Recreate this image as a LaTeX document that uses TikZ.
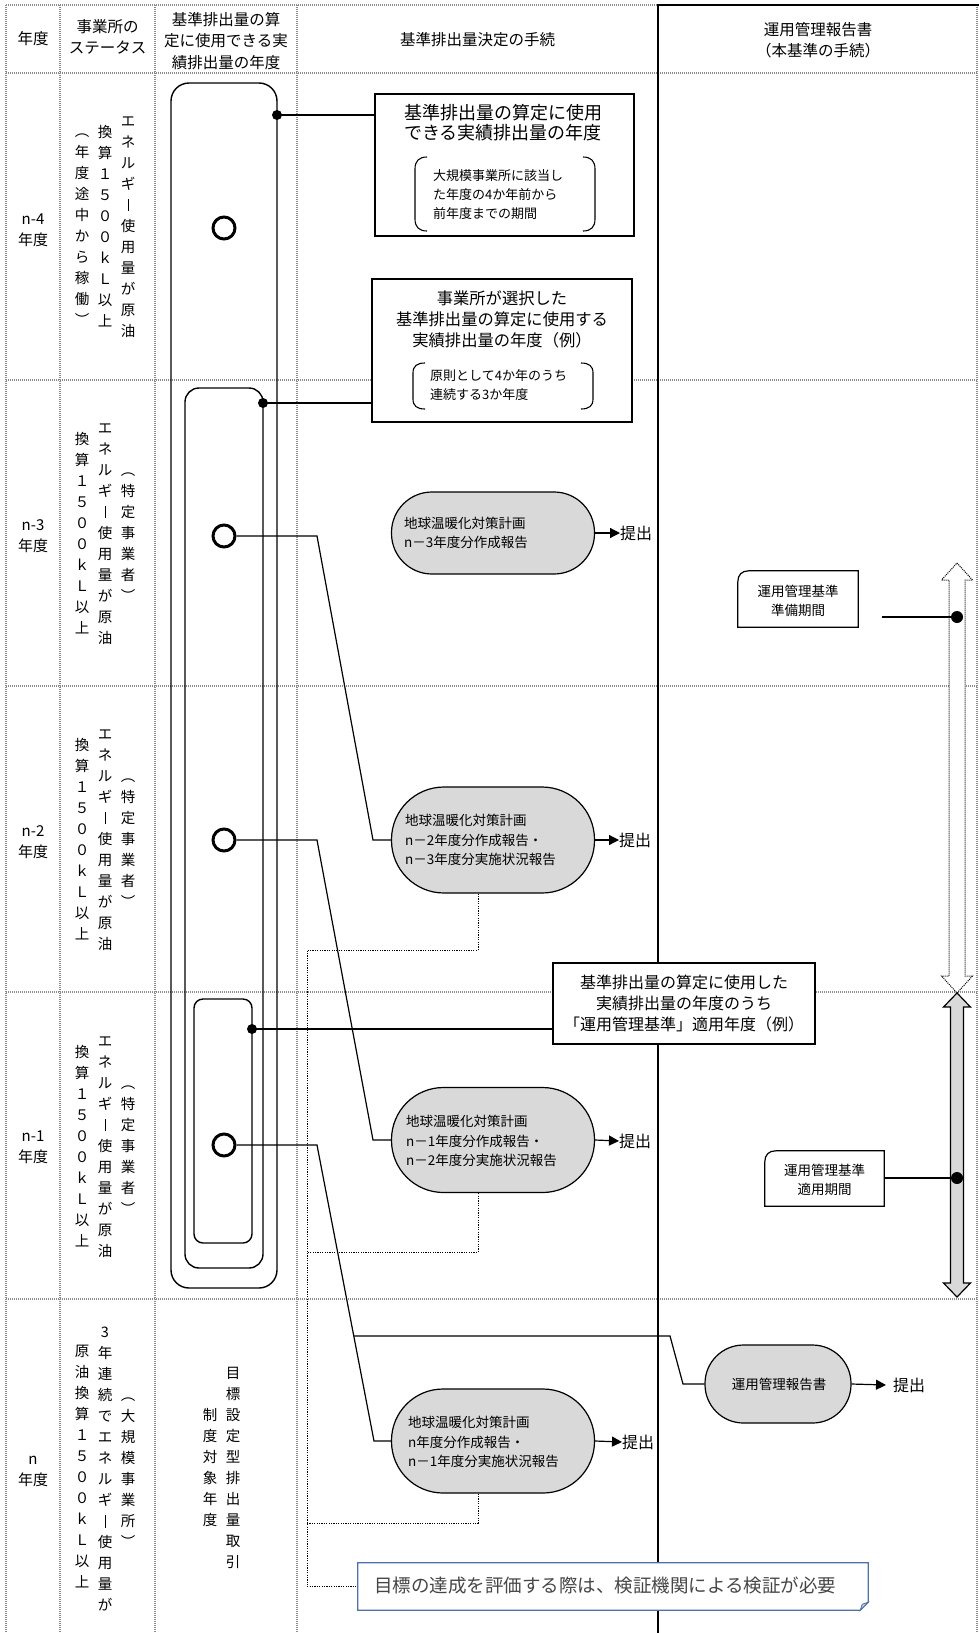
\documentclass[tikz,border=0pt]{standalone}
\usepackage{fontspec}
\setmainfont{Noto Sans CJK JP}
\usetikzlibrary{arrows.meta,calc}
\definecolor{capgray}{RGB}{217,217,217}
\definecolor{gridgray}{RGB}{140,140,140}
\definecolor{noteblue}{RGB}{79,113,170}
\definecolor{notetext}{RGB}{70,70,70}
\newcommand{\vp}{\vphantom{国}}
\newcommand{\vbar}{\raisebox{-1pt}{\rule{1pt}{12.5pt}}}
\begin{document}
\begin{tikzpicture}[x=1pt,y=-1pt,
 grid/.style={draw=gridgray, line width=1.6pt, dash pattern=on 1pt off 1pt},
 conn/.style={draw=black, line width=1.2pt},
 fbline/.style={draw=black, line width=0.9pt, dash pattern=on 1.2pt off 1.2pt},
 rrect/.style={draw=black, line width=1.4pt},
 hdr/.style={font=\fontsize{15.5}{21.5}\selectfont, align=center, inner sep=0},
 yr/.style={font=\fontsize{15}{21}\selectfont, align=center, inner sep=0},
 vcol/.style={font=\fontsize{14.5}{21}\selectfont, align=center, inner sep=0},
 boxw/.style={draw=black, line width=1.2pt, fill=white, inner sep=0},
 ttl/.style={font=\fontsize{#1}{21}\selectfont, align=center, inner sep=0},
 brt/.style={font=\fontsize{13}{19}\selectfont, align=left, inner sep=0, anchor=west},
 capn/.style={draw=black, line width=1.2pt, fill=capgray, minimum width=203pt, inner sep=0},
 ctext/.style={font=\fontsize{13.5}{19.5}\selectfont, align=left, inner sep=0},
 sub/.style={font=\fontsize{16}{16}\selectfont, inner sep=0, anchor=west},
 ocirc/.style={circle, draw=black, line width=3pt, minimum size=22pt, inner sep=0, fill=white},
 dot/.style={circle, fill=black, minimum size=10pt, inner sep=0},
 dotb/.style={circle, fill=black, minimum size=12pt, inner sep=0},
 tip/.style={-{Triangle[length=10pt,width=10pt]}},
 blank/.style={inner sep=0}
]
\useasboundingbox (0,0) rectangle (979,1633);

% ---------- grid ----------
\draw[grid] (6,5) -- (658,5);
\draw[grid] (6,5) -- (6,1633);
\foreach \gx in {60,155,297} \draw[grid] (\gx,5) -- (\gx,1633);
\draw[grid] (977,5) -- (977,1633);
\draw[grid, line width=2.4pt] (6,73) -- (977,73);
\foreach \gy in {380,686,992,1299} \draw[grid] (6,\gy) -- (977,\gy);
\draw[line width=2.6pt] (658,4) -- (658,1633);
\draw[line width=2.6pt] (658,5) -- (979,5);

% ---------- header ----------
\node[hdr] (h1) at (33,39) {年度};
\node[hdr] (h2) at (107.5,37) {事業所の\\ステータス};
\node[hdr] (h3) at (226,41) {基準排出量の算\\定に使用できる実\\績排出量の年度};
\node[hdr] (h4) at (477.5,40) {基準排出量決定の手続};
\node[hdr] (h5) at (818,40) {運用管理報告書\\（本基準の手続）};

% ---------- year column ----------
\node[yr] (y4) at (33,230) {n-4\\年度};
\node[yr] (y3) at (33,536) {n-3\\年度};
\node[yr] (y2) at (33,842) {n-2\\年度};
\node[yr] (y1) at (33,1147) {n-1\\年度};
\node[yr] (y0) at (33,1471) {n\\年度};

% ---------- status column (vertical text) ----------
\node[vcol] (s4a) at (128,226) {\vp エ\\ネ\\ル\\ギ\\\vbar\\使\\用\\量\\が\\原\\油\vp};
\node[vcol] (s4b) at (105,226) {\vp 換\\算\\１\\５\\０\\０\\ｋ\\Ｌ\\以\\上\vp};
\node[vcol] (s4c) at (82,226) {\vp ︵\\年\\度\\途\\中\\か\\ら\\稼\\働\\︶\vp};

\foreach \ry/\rn in {533/3,839/2,1146/1}{
 \node[vcol] (s\rn a) at (128,\ry) {\vp ︵\\特\\定\\事\\業\\者\\︶\vp};
 \node[vcol] (s\rn b) at (105,\ry) {\vp エ\\ネ\\ル\\ギ\\\vbar\\使\\用\\量\\が\\原\\油\vp};
 \node[vcol] (s\rn c) at (82,\ry) {\vp 換\\算\\１\\５\\０\\０\\ｋ\\Ｌ\\以\\上\vp};
}

\node[vcol] (s0a) at (128,1469) {\vp ︵\\大\\規\\模\\事\\業\\所\\︶\vp};
\node[vcol] (s0b) at (105,1469) {\vp 3\\年\\連\\続\\で\\エ\\ネ\\ル\\ギ\\\vbar\\使\\用\\量\\が\vp};
\node[vcol] (s0c) at (82,1467) {\vp 原\\油\\換\\算\\１\\５\\０\\０\\ｋ\\Ｌ\\以\\上\vp};

% column 3, row n
\node[vcol] (m0a) at (233,1468) {\vp 目\\標\\設\\定\\型\\排\\出\\量\\取\\引\vp};
\node[vcol] (m0b) at (210,1468) {\vp 制\\度\\対\\象\\年\\度\vp};

% ---------- nested rounded rectangles ----------
\draw[rrect, rounded corners=18pt] (171,83) rectangle (277,1288);
\draw[rrect, rounded corners=14pt] (185,388) rectangle (263,1268);
\draw[rrect, rounded corners=9pt] (194,999) rectangle (252,1243);

% ---------- capsules ----------
\node[capn, minimum height=82pt, rounded corners=40.5pt] (c1) at (493,533) {};
\node[capn, minimum height=106pt, rounded corners=52.5pt] (c2) at (493,840) {};
\node[capn, minimum height=105pt, rounded corners=52pt] (c3) at (493,1140) {};
\node[capn, minimum height=104pt, rounded corners=51.5pt] (c4) at (493,1441) {};
\node[capn, minimum width=146pt, minimum height=78pt, rounded corners=38.5pt] (c5) at (778,1384) {};

\node[ctext, anchor=west] (c1t) at (404,533) {地球温暖化対策計画\\n－3年度分作成報告};
\node[ctext, anchor=west] (c2t) at (405,840) {地球温暖化対策計画\\n－2年度分作成報告・\\n－3年度分実施状況報告};
\node[ctext, anchor=west] (c3t) at (406,1141) {地球温暖化対策計画\\n－1年度分作成報告・\\n－2年度分実施状況報告};
\node[ctext, anchor=west] (c4t) at (408,1442) {地球温暖化対策計画\\n年度分作成報告・\\n－1年度分実施状況報告};
\node[ctext] (c5t) at (779,1384) {運用管理報告書};

% submit arrows
\node[sub] (t1) at (620,533) {提出};
\node[sub] (t2) at (619,840) {提出};
\node[sub] (t3) at (619,1141) {提出};
\node[sub] (t4) at (622,1442) {提出};
\node[sub] (t5) at (893,1385) {提出};
\draw[conn, tip] (c1.east) -- (t1.west);
\draw[conn, tip] (c2.east) -- (t2.west);
\draw[conn, tip] (c3.east) -- (t3.west);
\draw[conn, tip] (c4.east) -- (t4.west);
\draw[conn, tip] (c5.east) -- ([xshift=-7pt]t5.west);

% ---------- circles ----------
\node[ocirc] (o4) at (224,228) {};
\node[ocirc] (o3) at (224,536) {};
\node[ocirc] (o2) at (224,840) {};
\node[ocirc] (o1) at (224,1145) {};

\coordinate (k3a) at (317,536);  \coordinate (k3b) at (373,840);
\coordinate (k2a) at (317,840);  \coordinate (k2b) at (373,1140);
\coordinate (k1a) at (317,1145); \coordinate (k1b) at (374,1441);
\draw[conn] (o3.east) -- (k3a) -- (k3b) -- (c2.west);
\draw[conn] (o2.east) -- (k2a) -- (k2b) -- (c3.west);
\draw[conn] (o1.east) -- (k1a) -- (k1b) -- (c4.west);
\coordinate (kb) at ($(k1a)!0.645!(k1b)$);
\coordinate (kc) at (670,1336);
\coordinate (kd) at (683,1384);
\draw[conn] (kb) -- (kb -| kc) -- (kd) -- (c5.west);

% ---------- feedback dotted lines ----------
\coordinate (fbx) at (307,950);
\node[blank, minimum width=510pt, minimum height=47pt] (note) at (613,1586.5) {};
\draw[fbline] ([xshift=-15pt]c2.south) |- (fbx) -- (fbx |- note.west) -- (note.west);
\draw[fbline] ([xshift=-15pt]c3.south) |- (307,1252);
\draw[fbline] ([xshift=-15pt]c4.south) |- (307,1523);

% note box
\draw[noteblue, line width=1.2pt, fill=white] (note.north west) -- (note.north east) -- ([yshift=8pt]note.south east) -- ([xshift=-8pt]note.south east) -- (note.south west) -- cycle;
\draw[noteblue, line width=0.8pt, fill=noteblue!35] ([yshift=8pt]note.south east) -- ([xshift=-6pt,yshift=6pt]note.south east) -- ([xshift=-8pt]note.south east) -- cycle;
\node[font=\fontsize{18.5}{20}\selectfont, text=notetext, anchor=west, inner sep=0] (notet) at (374,1585) {目標の達成を評価する際は、検証機関による検証が必要};

% ---------- description boxes ----------
\node[dot] (d1) at (277,115) {};
\node[dot] (d2) at (263,403) {};
\node[dot] (d3) at (252,1029) {};

\node[boxw, minimum width=259pt, minimum height=142pt] (b1) at (504.5,165) {};
\node[boxw, minimum width=260pt, minimum height=143pt] (b2) at (502,350.5) {};
\node[boxw, minimum width=262pt, minimum height=81pt] (b3) at (684,1003.5) {};
\draw[conn] (d1.center) -- (b1.west |- d1);
\draw[conn] (d2.center) -- (b2.west |- d2);
\draw[conn] (d3.center) -- (b3.west |- d3);

\node[ttl=18, font=\fontsize{18}{20}\selectfont] (b1t) at (503,123) {基準排出量の算定に使用\\できる実績排出量の年度};
\node[brt] (b1s) at (433,195) {大規模事業所に該当し\\た年度の4か年前から\\前年度までの期間};
\draw[line width=1.1pt] (427,157) .. controls (419,157) and (415,161) .. (415,169) -- (415,219) .. controls (415,227) and (419,231) .. (427,231);
\draw[line width=1.1pt] (583,157) .. controls (591,157) and (595,161) .. (595,169) -- (595,219) .. controls (595,227) and (591,231) .. (583,231);

\node[ttl=16.3, font=\fontsize{16.3}{21}\selectfont] (b2t) at (502,319) {事業所が選択した\\基準排出量の算定に使用する\\実績排出量の年度（例）};
\node[brt] (b2s) at (430,385) {原則として4か年のうち\\連続する3か年度};
\draw[line width=1.1pt] (425,363) .. controls (417,363) and (413,366) .. (413,373) -- (413,399) .. controls (413,406) and (417,409) .. (425,409);
\draw[line width=1.1pt] (581,363) .. controls (589,363) and (593,366) .. (593,373) -- (593,399) .. controls (593,406) and (589,409) .. (581,409);

\node[ttl=16, font=\fontsize{16}{21}\selectfont] (b3t) at (684,1003) {基準排出量の算定に使用した\\実績排出量の年度のうち\\「運用管理基準」適用年度（例）};

% ---------- right column ----------
\draw[line width=1pt, dash pattern=on 1pt off 1pt, fill=white] (957,563) -- (972.5,580) -- (965,580) -- (965,976) -- (972.5,976) -- (957,993) -- (941.5,976) -- (949,976) -- (949,580) -- (941.5,580) -- cycle;
\draw[line width=1.2pt, fill=capgray] (957,993) -- (970.5,1007) -- (963.5,1007) -- (963.5,1283) -- (970.5,1283) -- (957,1297) -- (943.5,1283) -- (950.5,1283) -- (950.5,1007) -- (943.5,1007) -- cycle;

\node[blank, minimum width=120pt, minimum height=56pt] (p1) at (798,599) {};
\draw[line width=1.2pt, fill=white] (p1.north east) -- (p1.south east) -- (p1.south west) -- ([yshift=-11pt]p1.north west) .. controls ([yshift=-4pt]p1.north west) and ([xshift=4pt]p1.north west) .. ([xshift=11pt]p1.north west) -- cycle;
\node[ctext, align=center] (p1t) at (798,601) {運用管理基準\\準備期間};

\node[blank, minimum width=119pt, minimum height=55pt] (p2) at (824.5,1178.5) {};
\draw[line width=1.2pt, fill=white] (p2.north east) -- (p2.south east) -- (p2.south west) -- ([yshift=-11pt]p2.north west) .. controls ([yshift=-4pt]p2.north west) and ([xshift=4pt]p2.north west) .. ([xshift=11pt]p2.north west) -- cycle;
\node[ctext, align=center] (p2t) at (824.5,1180) {運用管理基準\\適用期間};

\node[dotb] (rd1) at (957,617) {};
\node[dotb] (rd2) at (957,1178) {};
\coordinate (pl1) at (882,617);
\draw[conn] (pl1) -- (rd1.center);
\draw[conn] (p2.east |- rd2) -- (rd2.center);

\end{tikzpicture}
\end{document}
